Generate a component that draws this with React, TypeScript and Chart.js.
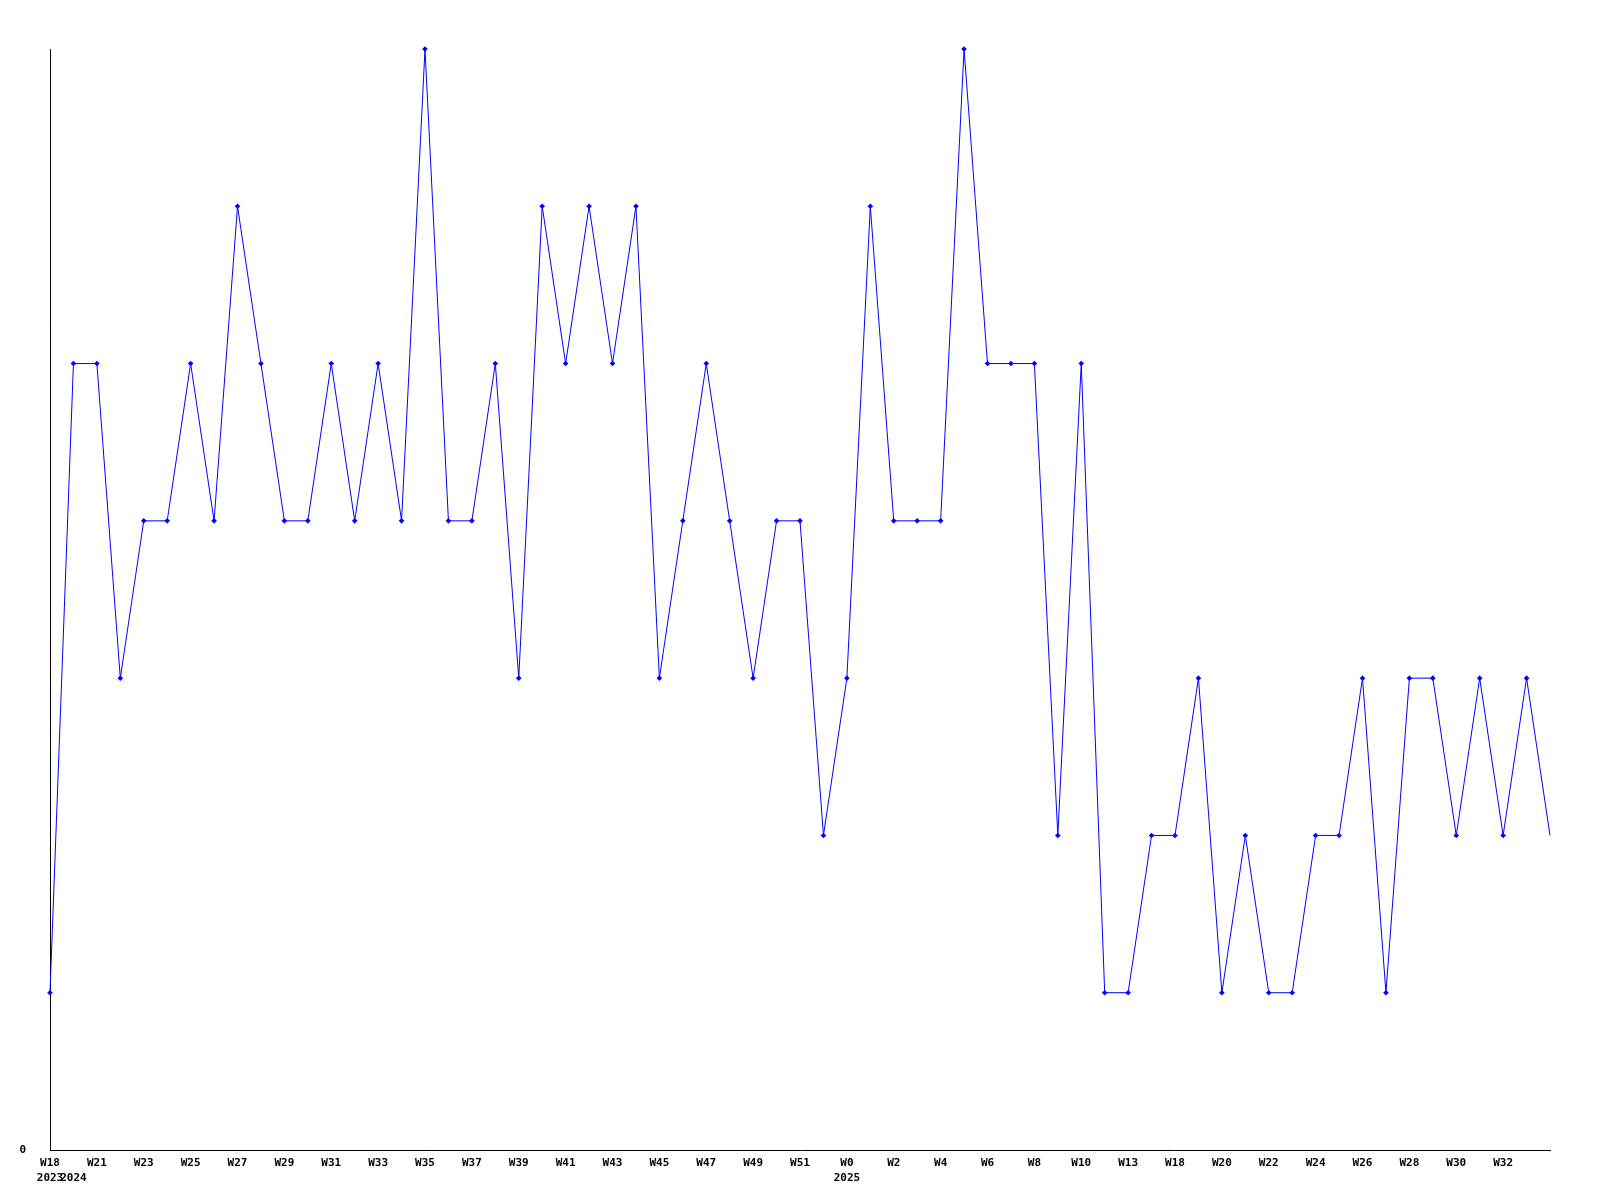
import React, { useEffect, useRef } from "react";
import { Chart, registerables } from "chart.js";

Chart.register(...registerables);

const weeks: string[] = [
  "W18", "W20", "W21", "W22", "W23", "W24", "W25", "W26", "W27", "W28",
  "W29", "W30", "W31", "W32", "W33", "W34", "W35", "W36", "W37", "W38",
  "W39", "W40", "W41", "W42", "W43", "W44", "W45", "W46", "W47", "W48",
  "W49", "W50", "W51", "W52", "W0", "W1", "W2", "W3", "W4", "W5",
  "W6", "W7", "W8", "W9", "W10", "W12", "W13", "W15", "W18", "W19",
  "W20", "W21", "W22", "W23", "W24", "W25", "W26", "W27", "W28", "W29",
  "W30", "W31", "W32", "W33", "W34",
];

const years: string[] = [
  "2023",
  ...Array(33).fill("2024"),
  ...Array(31).fill("2025"),
];

const counts: number[] = [
  1, 5, 5, 3, 4, 4, 5, 4, 6, 5,
  4, 4, 5, 4, 5, 4, 7, 4, 4, 5,
  3, 6, 5, 6, 5, 6, 3, 4, 5, 4,
  3, 4, 4, 2, 3, 6, 4, 4, 4, 7,
  5, 5, 5, 2, 5, 1, 1, 2, 2, 3,
  1, 2, 1, 1, 2, 2, 3, 1, 3, 3,
  2, 3, 2, 3, 2,
];

const yTickLabels: string[] = ["0"];

export default function App() {
  const ref = useRef<HTMLCanvasElement | null>(null);

  useEffect(() => {
    if (!ref.current) return;
    const last = counts.length - 1;
    const font = { family: "'DejaVu Sans Mono', monospace", size: 11, weight: "bold" as const, lineHeight: 1.4 };
    const chart = new Chart(ref.current, {
      type: "line",
      data: {
        labels: weeks,
        datasets: [
          {
            data: counts,
            borderColor: "#0000ff",
            backgroundColor: "#0000ff",
            borderWidth: 1,
            tension: 0,
            fill: false,
            clip: false,
            pointStyle: "rectRot",
            pointRadius: (ctx: any) => (ctx.dataIndex === last ? 0 : 2.8),
            pointBorderWidth: 0,
            pointBackgroundColor: "#0000ff",
          },
        ],
      },
      options: {
        responsive: false,
        animation: false,
        events: [],
        layout: { padding: { top: 49, right: 50, left: 0, bottom: 0 } },
        plugins: { legend: { display: false }, tooltip: { enabled: false }, title: { display: false } },
        scales: {
          x: {
            type: "category",
            offset: false,
            grid: { drawOnChartArea: false, drawTicks: false },
            border: { display: true, color: "#000", width: 1 },
            afterFit: (s: any) => { s.height = 50; },
            ticks: {
              autoSkip: false,
              maxRotation: 0,
              minRotation: 0,
              padding: 5,
              color: "#000",
              font,
              callback: (_v: any, i: number) => {
                const showWeek = i % 2 === 0 && i !== last;
                const showYear = i === 0 || years[i] !== years[i - 1];
                return [showWeek ? weeks[i] : "", showYear ? years[i] : ""];
              },
            },
          },
          y: {
            min: 0,
            max: 7,
            grid: { drawOnChartArea: false, drawTicks: false },
            border: { display: true, color: "#000", width: 1 },
            afterFit: (s: any) => { s.width = 50; },
            ticks: {
              stepSize: 7,
              padding: 24,
              color: "#000",
              font,
              callback: (v: any) => (v === 0 ? yTickLabels[0] : ""),
            },
          },
        },
      },
    });
    return () => chart.destroy();
  }, []);

  return (
    <div style={{ position: "absolute", left: 0, top: 0, width: 1600, height: 1200, background: "#fff" }}>
      <canvas ref={ref} width={1600} height={1200} style={{ display: "block" }} />
    </div>
  );
}
